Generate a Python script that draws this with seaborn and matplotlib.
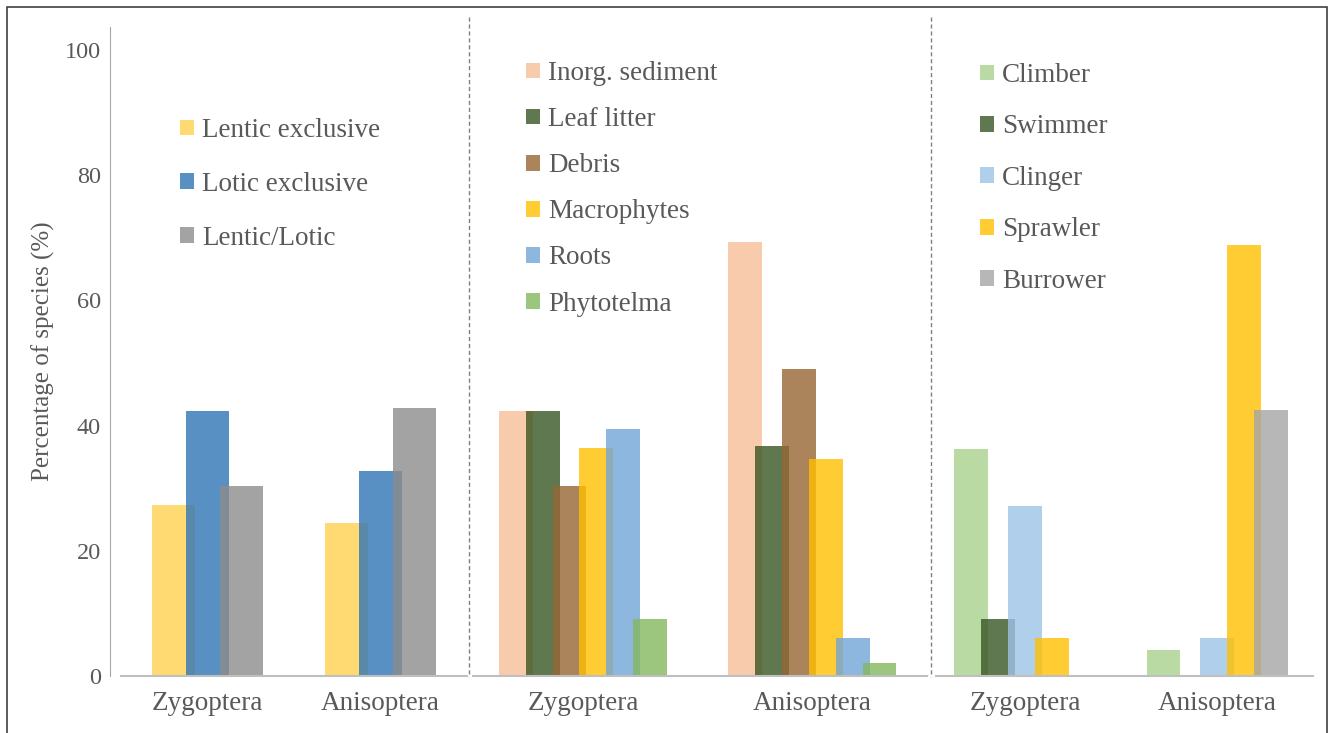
import numpy as np
import pandas as pd
import seaborn as sns
import matplotlib.pyplot as plt
from matplotlib.patches import Patch, Rectangle
from matplotlib.lines import Line2D

# values (percentage of species)
suborders = ["Zygoptera", "Anisoptera"]

habitat_labels = ["Lentic exclusive", "Lotic exclusive", "Lentic/Lotic"]
habitat_zyg = [27.3, 42.4, 30.3]
habitat_ani = [24.5, 32.7, 42.8]
habitat_colors = ["#FFD04F", "#2E75B6", "#8C8C8C"]

substrate_labels = ["Inorg. sediment", "Leaf litter", "Debris", "Macrophytes",
                    "Roots", "Phytotelma"]
substrate_zyg = [42.4, 42.4, 30.3, 36.4, 39.4, 9.1]
substrate_ani = [69.4, 36.7, 49.0, 34.7, 6.1, 2.0]
substrate_colors = ["#F6BE98", "#375623", "#976633", "#FFC000", "#71A5D8",
                    "#84B75E"]

behaviour_labels = ["Climber", "Swimmer", "Clinger", "Sprawler", "Burrower"]
behaviour_zyg = [36.2, 9.1, 27.2, 6.1, 0.0]
behaviour_ani = [4.1, 0.0, 6.1, 68.8, 42.5]
behaviour_colors = ["#A9D18E", "#375623", "#9DC3E6", "#FFC000", "#A5A5A5"]

W, H = 1336, 733
TEXT = "#595959"
ALPHA = 0.8


def fig_rect(x0, x1, y_top=27, y_bottom=676):
    return [x0 / W, 1 - y_bottom / H, (x1 - x0) / W, (y_bottom - y_top) / H]


def draw_panel(ax, labels, zyg, ani, colors, step, bar_w, xlim,
               legend_xy, labelspacing):
    n = len(labels)
    df = pd.DataFrame({"suborder": np.repeat(suborders, n),
                       "group": labels * 2,
                       "pct": zyg + ani})
    sns.barplot(data=df, x="suborder", y="pct", hue="group",
                order=suborders, hue_order=labels, palette=colors,
                width=n * step, dodge=True, saturation=1, alpha=ALPHA,
                linewidth=0, errorbar=None, legend=False, ax=ax)

    # Excel-style overlapping bars: widen each bar around its centre
    for p in ax.patches:
        c = p.get_x() + p.get_width() / 2
        p.set_width(bar_w)
        p.set_x(c - bar_w / 2)

    ax.set_xlim(*xlim)
    ax.set_ylim(0, 103.7)
    ax.set_xlabel("")
    ax.set_ylabel("")
    for s in ["top", "right", "left"]:
        ax.spines[s].set_visible(False)
    ax.spines["bottom"].set_color("#BFBFBF")
    ax.spines["bottom"].set_linewidth(1.5)
    ax.tick_params(axis="x", length=0, pad=11, labelsize=19.5,
                   labelcolor=TEXT)
    ax.tick_params(axis="y", length=0)
    ax.set_yticks([])

    handles = [Patch(facecolor=c, alpha=ALPHA, linewidth=0) for c in colors]
    ax.legend(handles, labels, loc="upper left", frameon=False,
              bbox_to_anchor=(legend_xy[0] / W, 1 - legend_xy[1] / H),
              bbox_transform=ax.figure.transFigure, fontsize=19.5,
              handlelength=0.52, handleheight=0.52, handletextpad=0.3,
              labelspacing=labelspacing, borderpad=0, borderaxespad=0,
              labelcolor=TEXT)


def main():
    sns.set_style("white")
    plt.rcParams["font.family"] = ["Liberation Serif", "DejaVu Serif"]

    fig = plt.figure(figsize=(W / 100, H / 100), dpi=100)
    ax1 = fig.add_axes(fig_rect(121, 467))
    ax2 = fig.add_axes(fig_rect(473, 927))
    ax3 = fig.add_axes(fig_rect(936, 1313))

    draw_panel(ax1, habitat_labels, habitat_zyg, habitat_ani, habitat_colors,
               0.197, 0.246, (-0.5, 1.5), (180, 118), 1.07)
    draw_panel(ax2, substrate_labels, substrate_zyg, substrate_ani,
               substrate_colors, 0.117, 0.147, (-0.479, 1.499), (526, 61),
               0.78)
    draw_panel(ax3, behaviour_labels, behaviour_zyg, behaviour_ani,
               behaviour_colors, 0.140, 0.175, (-0.463, 1.498), (980, 63),
               0.975)

    # shared y axis on the first panel
    ax1.spines["left"].set_visible(True)
    ax1.spines["left"].set_position(("outward", 8))
    ax1.spines["left"].set_color("#A6A6A6")
    ax1.spines["left"].set_linewidth(0.8)
    ax1.set_yticks(np.arange(0, 101, 20))
    ax1.tick_params(axis="y", length=0, pad=6.5, labelsize=17.5,
                    labelcolor=TEXT)
    ax1.set_ylabel("Percentage of species (%)", fontsize=18, color=TEXT)
    ax1.yaxis.set_label_coords(55 / W, 1 - 351 / H, transform=fig.transFigure)

    # dashed panel dividers
    for x in [469, 931]:
        fig.add_artist(Line2D([x / W, x / W], [1 - 17 / H, 1 - 677 / H],
                              transform=fig.transFigure, color="#808080",
                              linewidth=1.0, linestyle=(0, (3, 2))))

    # outer frame
    fig.add_artist(Rectangle((7 / W, -0.02), (1327 - 7) / W, (733 - 7) / H + 0.02,
                             transform=fig.transFigure, fill=False,
                             edgecolor="#404040", linewidth=1.2))

    fig.savefig("out.png", dpi=100)


if __name__ == "__main__":
    main()
